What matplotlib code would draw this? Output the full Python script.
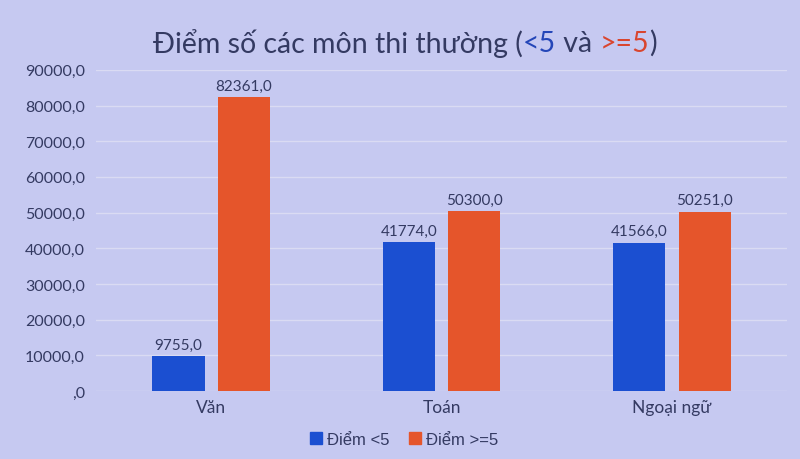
import numpy as np
import matplotlib.pyplot as plt
from matplotlib.patches import Patch

# Data
categories = ['Văn', 'Toán', 'Ngoại ngữ']
below_5 = [9755.0, 41774.0, 41566.0]
above_5 = [82361.0, 50300.0, 50251.0]
series_names = ['Điểm <5', 'Điểm >=5']
yticks = [0, 10000, 20000, 30000, 40000, 50000, 60000, 70000, 80000, 90000]

bg = '#c6c9f1'
blue = '#1b4fd1'
orange = '#e5552b'
text_col = '#343a62'

plt.rcParams['font.family'] = ['Lato', 'DejaVu Sans']

fig = plt.figure(figsize=(8, 4.6), dpi=100, facecolor=bg)
ax = fig.add_axes([0.12, 0.148, 0.864, 0.698], facecolor=bg)

x = np.arange(len(categories))
w = 0.226
off = 0.142
ax.bar(x - off, below_5, w, color=blue, zorder=3)
ax.bar(x + off, above_5, w, color=orange, zorder=3)

for xi, v in zip(x, below_5):
    ax.text(xi - off, v + 1200, f'{v:.1f}'.replace('.', ','), ha='center',
            va='bottom', fontsize=11, color=text_col)
for xi, v in zip(x, above_5):
    ax.text(xi + off, v + 1200, f'{v:.1f}'.replace('.', ','), ha='center',
            va='bottom', fontsize=11, color=text_col)

ax.set_xlim(-0.5, 2.5)
ax.set_ylim(0, 90000)
ax.set_yticks(yticks)
ax.set_yticklabels([(f'{t:.1f}'.replace('.', ',') if t else ',0') for t in yticks],
                   fontsize=11.5, color=text_col)
ax.set_xticks(x)
ax.set_xticklabels(categories, fontsize=12.5, color=text_col)
ax.tick_params(length=0, pad=8)
ax.tick_params(axis='x', pad=6)
ax.grid(axis='y', color='#dadbf3', lw=1, zorder=0)
for s in ax.spines.values():
    s.set_visible(False)

# Title with coloured parts
parts = [('Điểm số các môn thi thường (', text_col), ('<5', '#2446b8'),
         (' và ', text_col), ('>=5', '#d9452e'), (')', text_col)]
renderer = fig.canvas.get_renderer()
pieces = []
total = 0
for s, c in parts:
    t = fig.text(0, 0.905, s, fontsize=20.5, color=c, va='center', ha='left')
    bb = t.get_window_extent(renderer)
    pieces.append((t, bb.width))
    total += bb.width
xpos = (405 - total / 2)
for t, wd in pieces:
    t.set_x(xpos / 800)
    xpos += wd

handles = [Patch(color=blue), Patch(color=orange)]
fig.legend(handles, series_names, loc='center', bbox_to_anchor=(0.505, 0.043),
           ncol=2, frameon=False, handlelength=0.7, handleheight=0.7,
           handletextpad=0.3, columnspacing=1.2,
           prop={'family': 'Liberation Sans', 'size': 12}, labelcolor=text_col)

fig.savefig('out.png', dpi=100, facecolor=bg)
